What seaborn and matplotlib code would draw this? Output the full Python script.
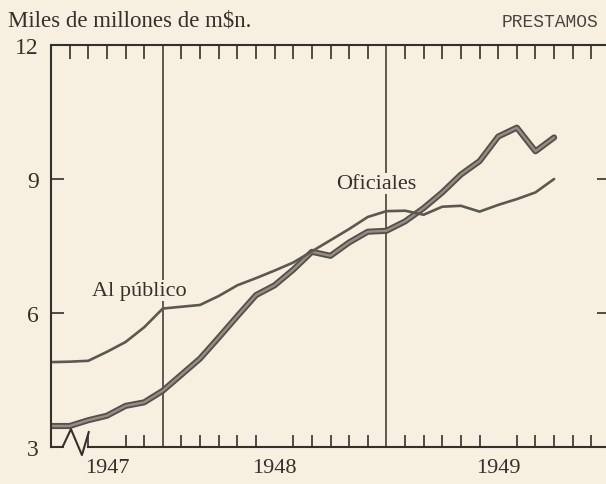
import matplotlib
matplotlib.use('Agg')
import matplotlib.pyplot as plt
import seaborn as sns
import pandas as pd

# monthly values, July 1947 .. October 1949 (miles de millones de m$n.)
meses = pd.date_range('1947-07-01', periods=28, freq='MS')
al_publico = [4.90, 4.91, 4.93, 5.13, 5.35, 5.68, 6.10, 6.14, 6.18, 6.38,
              6.62, 6.78, 6.95, 7.13, 7.38, 7.63, 7.88, 8.15, 8.28, 8.29,
              8.20, 8.38, 8.40, 8.27, 8.42, 8.55, 8.70, 9.00]
oficiales = [3.47, 3.47, 3.60, 3.70, 3.92, 4.00, 4.26, 4.62, 4.98, 5.45,
             5.93, 6.40, 6.62, 6.97, 7.37, 7.28, 7.58, 7.82, 7.84, 8.05,
             8.35, 8.70, 9.10, 9.40, 9.95, 10.15, 9.62, 9.93]
years = ['1947', '1948', '1949']
y_ticks = [3, 6, 9, 12]

paper = '#f7efdf'
ink = '#35302b'

sns.set_style('white', {'axes.facecolor': paper, 'figure.facecolor': paper,
                        'axes.edgecolor': ink})
plt.rcParams['font.family'] = ['Liberation Serif', 'DejaVu Serif']

df = pd.DataFrame({'mes': range(len(meses)), 'publico': al_publico,
                   'oficiales': oficiales})

fig = plt.figure(figsize=(6.06, 4.85), dpi=100)
ax = fig.add_axes([51 / 606, 37 / 485, 559 / 606, 402 / 485])

# thick double-edged line for official loans
sns.lineplot(data=df, x='mes', y='oficiales', ax=ax, color='#55504a', lw=4.4)
sns.lineplot(data=df, x='mes', y='oficiales', ax=ax, color='#948e86', lw=1.7)
sns.lineplot(data=df, x='mes', y='publico', ax=ax, color='#5c5751', lw=1.9)

ax.set_xlim(0, 30)
ax.set_ylim(3, 12)
ax.set_xlabel('')
ax.set_ylabel('')

# year boundaries
for start in (6, 18):
    ax.axvline(start, color=ink, lw=1.1, zorder=1)

for s in ax.spines.values():
    s.set_linewidth(1.5)
    s.set_color(ink)
ax.spines['bottom'].set_bounds(2, 30)

# broken axis mark at lower left
ax.plot([0, 0.62, 1.07, 1.66, 2.03], [3.0, 3.0, 3.4, 2.82, 3.34],
        color=ink, lw=1.5, clip_on=False, zorder=3)

# month ticks
ax.set_xticks([3, 12, 24])
ax.set_xticklabels(years)
ax.tick_params(axis='x', which='major', length=0, pad=8, labelsize=16,
               colors=ink)
months_bottom = [t for t in range(2, 30) if t not in (6, 18)]
ax.set_xticks(months_bottom, minor=True)
ax.tick_params(axis='x', which='minor', direction='in', length=9, width=1.2,
               color=ink, bottom=True, top=False)
top_ax = ax.secondary_xaxis('top')
top_ax.set_xticks([t for t in range(1, 30) if t not in (6, 18)])
top_ax.set_xticklabels([])
top_ax.tick_params(direction='in', length=10, width=1.2, color=ink)
top_ax.spines['top'].set_visible(False)

ax.set_yticks(y_ticks)
ax.tick_params(axis='y', direction='in', length=9.5, width=1.2, color=ink,
               left=True, right=True, labelsize=17, labelcolor=ink, pad=9)

ax.text(2.2, 6.4, 'Al público', fontsize=16, color=ink,
        bbox=dict(facecolor=paper, edgecolor='none', pad=1))
ax.text(15.3, 8.8, 'Oficiales', fontsize=16, color=ink,
        bbox=dict(facecolor=paper, edgecolor='none', pad=1))

fig.text(8 / 606, 1 - 27 / 485, 'Miles de millones de m$n.', fontsize=16.5,
         color=ink, va='baseline')
fig.text(598 / 606, 1 - 27 / 485, 'PRESTAMOS', fontsize=13,
         family='Liberation Mono', color='#4a4540', ha='right',
         va='baseline')

fig.savefig('out.png', dpi=100, facecolor=paper)
